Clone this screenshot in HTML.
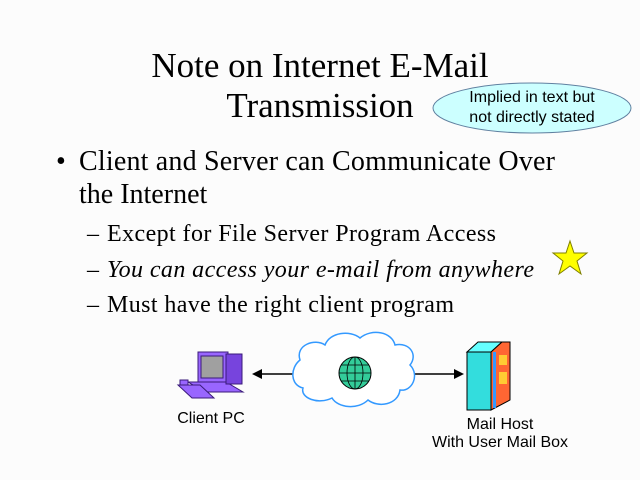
<!DOCTYPE html>
<html><head><meta charset="utf-8"><style>
html,body{margin:0;padding:0;background:#fcfcfc;}
svg{display:block;}
.t{font-family:"Liberation Serif",serif;fill:#000;}
.s{font-family:"Liberation Sans",sans-serif;fill:#000;}
</style></head><body>
<svg width="640" height="480" viewBox="0 0 640 480" xmlns="http://www.w3.org/2000/svg">
<rect width="640" height="480" fill="#fcfcfc"/>
<text class="t" x="320" y="77" font-size="35" text-anchor="middle">Note on Internet E-Mail</text>
<text class="t" x="320" y="117" font-size="35" text-anchor="middle">Transmission</text>
<ellipse cx="532" cy="108" rx="99" ry="25" fill="#ccffff" stroke="#6080a0" stroke-width="1"/>
<text class="s" x="532" y="102" font-size="16" text-anchor="middle">Implied in text but</text>
<text class="s" x="532" y="122" font-size="16" text-anchor="middle">not directly stated</text>
<text class="t" x="56" y="170" font-size="28">•</text>
<text class="t" x="79" y="170" font-size="28" textLength="476">Client and Server can Communicate Over</text>
<text class="t" x="79" y="203" font-size="28">the Internet</text>
<text class="t" x="87" y="241" font-size="24">– </text>
<text class="t" x="107" y="241" font-size="24" textLength="389">Except for File Server Program Access</text>
<text class="t" x="87" y="277" font-size="24">– </text>
<text class="t" x="107" y="277" font-size="24" font-style="italic" textLength="427">You can access your e-mail from anywhere</text>
<text class="t" x="87" y="312" font-size="24">– </text>
<text class="t" x="107" y="312" font-size="24" textLength="347">Must have the right client program</text>
<polygon points="570,241 574,253 587,253 577,261 581,274 570,266 559,274 563,261 553,253 566,253" fill="#ffff00" stroke="#808000" stroke-width="1"/>
<!-- PC -->
<g>
<polygon points="188,382 226,382 243,392 205,392" fill="#9966ff" stroke="#3a1a7a"/>
<rect x="198" y="352" width="30" height="30" fill="#9966ff" stroke="#3a1a7a"/>
<rect x="201" y="356" width="22" height="22" fill="#a0a0a0" stroke="#3a1a7a"/>
<rect x="226" y="354" width="16" height="30" fill="#7744dd" stroke="#3a1a7a"/>
<polygon points="178,385 200,385 214,398 192,398" fill="#9966ff" stroke="#3a1a7a"/>
<rect x="180" y="380" width="8" height="5" fill="#9966ff" stroke="#3a1a7a"/>
</g>
<text class="s" x="211" y="423" font-size="16" text-anchor="middle">Client PC</text>
<!-- arrows -->
<line x1="260" y1="374" x2="295" y2="374" stroke="#000" stroke-width="1.5"/>
<polygon points="252,374 262,369 262,379" fill="#000"/>
<line x1="415" y1="374" x2="455" y2="374" stroke="#000" stroke-width="1.5"/>
<polygon points="464,374 454,369 454,379" fill="#000"/>
<!-- cloud -->
<path d="M300,360 C295,345 315,338 325,345 C330,332 350,330 360,338 C372,328 392,332 395,345 C410,342 418,355 410,365 C420,375 412,392 400,390 C398,405 378,408 368,400 C358,410 338,408 332,398 C318,405 300,398 303,388 C290,385 290,368 300,360 Z" fill="#fff" stroke="#3399ff" stroke-width="1.5"/>
<circle cx="355" cy="373" r="16" fill="#33cc99" stroke="#000"/>
<ellipse cx="355" cy="373" rx="8" ry="16" fill="none" stroke="#000" stroke-width="0.8"/>
<line x1="355" y1="357" x2="355" y2="389" stroke="#000" stroke-width="0.8"/>
<line x1="339" y1="373" x2="371" y2="373" stroke="#000" stroke-width="0.8"/>
<line x1="341" y1="365" x2="369" y2="365" stroke="#000" stroke-width="0.8"/>
<line x1="341" y1="381" x2="369" y2="381" stroke="#000" stroke-width="0.8"/>
<!-- server -->
<polygon points="467,352 478,342 502,342 491,352" fill="#66ffff" stroke="#000"/>
<rect x="467" y="352" width="24" height="58" fill="#33dddd" stroke="#000"/>
<polygon points="491,352 502,342 510,342 510,400 491,410" fill="#ff6633" stroke="#000"/>
<rect x="493" y="352" width="3" height="56" fill="#3399ff"/>
<rect x="499" y="355" width="8" height="10" fill="#ffcc33"/>
<rect x="499" y="372" width="8" height="12" fill="#ffcc33"/>
<text class="s" x="500" y="429" font-size="16" text-anchor="middle">Mail Host</text>
<text class="s" x="500" y="447" font-size="16" text-anchor="middle">With User Mail Box</text>
</svg>
</body></html>
